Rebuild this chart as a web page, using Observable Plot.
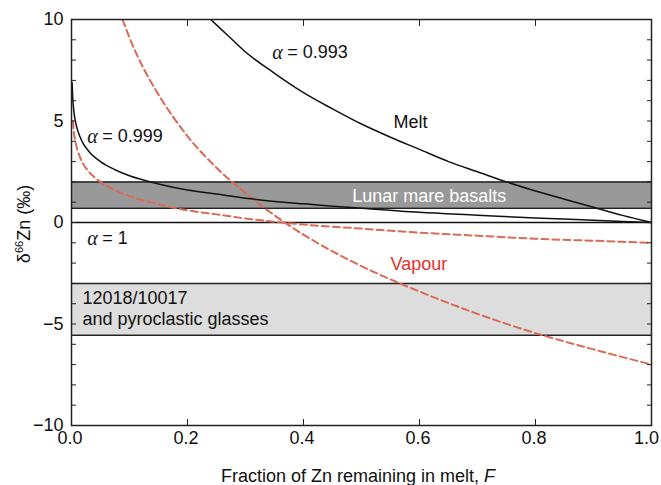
<!DOCTYPE html>
<html><head><meta charset="utf-8">
<script src="https://cdn.jsdelivr.net/npm/d3@7"></script>
<script src="https://cdn.jsdelivr.net/npm/@observablehq/plot@0.6"></script>
<style>
body{margin:0;background:#fff;}
#chart{width:661px;height:485px;}
</style>
</head><body><div id="chart"></div>
<script>
// Melt curve, alpha = 0.999
const meltF999 = [0.001, 0.002, 0.004, 0.007, 0.01, 0.015, 0.02, 0.03, 0.05, 0.075, 0.1, 0.15, 0.2, 0.25, 0.3, 0.4, 0.5, 0.6, 0.7, 0.8, 0.9, 1.0];
const melt999  = [6.9, 6.2, 5.5, 4.95, 4.6, 4.2, 3.9, 3.5, 3.0, 2.6, 2.3, 1.9, 1.6, 1.4, 1.2, 0.92, 0.7, 0.5, 0.36, 0.22, 0.11, 0.0];
// Vapour curve, alpha = 0.999
const vapF999 = [0.0025, 0.004, 0.007, 0.01, 0.015, 0.02, 0.03, 0.05, 0.075, 0.1, 0.15, 0.2, 0.25, 0.3, 0.4, 0.5, 0.6, 0.7, 0.8, 0.9, 1.0];
const vap999  = [5.0, 4.5, 3.95, 3.6, 3.2, 2.9, 2.5, 2.0, 1.6, 1.3, 0.9, 0.6, 0.4, 0.2, -0.1, -0.3, -0.5, -0.65, -0.8, -0.9, -1.0];
// Melt curve, alpha = 0.993
const meltF993 = [0.24, 0.27, 0.3, 0.35, 0.4, 0.45, 0.5, 0.55, 0.6, 0.65, 0.7, 0.75, 0.8, 0.85, 0.9, 0.95, 1.0];
const melt993  = [10.0, 9.2, 8.4, 7.35, 6.4, 5.6, 4.85, 4.2, 3.6, 3.0, 2.5, 2.0, 1.55, 1.15, 0.75, 0.35, 0.0];
// Vapour curve, alpha = 0.993
const vapF993 = [0.088, 0.1, 0.125, 0.15, 0.2, 0.25, 0.3, 0.35, 0.4, 0.5, 0.6, 0.7, 0.8, 0.9, 1.0];
const vap993  = [10.0, 9.1, 7.55, 6.3, 4.25, 2.7, 1.45, 0.35, -0.6, -2.15, -3.4, -4.5, -5.45, -6.25, -7.0];
// alpha = 1 line
const alphaOneValue = [0];
// Reference bands
const bandNames = ["Lunar mare basalts", "12018/10017 and pyroclastic glasses"];
const bandLow   = [0.7, -5.55];
const bandHigh  = [2.0, -3.0];
// Tick values
const xTicks = [0, 0.2, 0.4, 0.6, 0.8];
const xLastTick = [1.0];
const xInnerTicks = [0.2, 0.4, 0.6, 0.8];
const yTicks = [-10, -5, 0, 5, 10];
const yMinorTicks = d3.range(-10, 11, 1);
// Annotation labels
const alphaLabelVal = ["0.993", "0.999", "1"];
const alphaLabelF   = [0.346, 0.027, 0.027];
const alphaLabelV   = [8.37, 4.24, -0.79];

const zip = (xs, ys) => xs.map((x, i) => ({F: x, d: ys[i]}));
const bands = bandNames.map((n, i) => ({name: n, lo: bandLow[i], hi: bandHigh[i]}));
const alphaLabels = alphaLabelVal.map((v, i) => ({v, F: alphaLabelF[i], d: alphaLabelV[i]}));

const font = "'Liberation Sans', Arial, Helvetica, sans-serif";
const red = "#d96a55";

const plot = Plot.plot({
  width: 661, height: 485,
  marginLeft: 71, marginRight: 10, marginTop: 19, marginBottom: 60,
  style: {fontFamily: font, fontSize: "18px", background: "#fff", color: "#111"},
  x: {domain: [0, 1]},
  y: {domain: [-10, 10]},
  marks: [
    Plot.rect(bands, {x1: 0, x2: 1, y1: "lo", y2: "hi", fill: (d, i) => i === 0 ? "#999999" : "#dddddd"}),
    Plot.ruleY(bands, {y: "lo", x1: 0, x2: 1, stroke: "#222", strokeWidth: 1.5}),
    Plot.ruleY(bands, {y: "hi", x1: 0, x2: 1, stroke: "#222", strokeWidth: 1.5}),
    Plot.ruleY(alphaOneValue, {x1: 0, x2: 1, stroke: "#111", strokeWidth: 1.5}),
    Plot.line(zip(vapF999, vap999), {x: "F", y: "d", stroke: red, strokeWidth: 2, strokeDasharray: "7,4", curve: "monotone-x", clip: true}),
    Plot.line(zip(vapF993, vap993), {x: "F", y: "d", stroke: red, strokeWidth: 2, strokeDasharray: "7,4", curve: "monotone-x", clip: true}),
    Plot.line(zip(meltF999, melt999), {x: "F", y: "d", stroke: "#111", strokeWidth: 1.5, curve: "monotone-x", clip: true}),
    Plot.line(zip(meltF993, melt993), {x: "F", y: "d", stroke: "#111", strokeWidth: 1.5, curve: "monotone-x", clip: true}),
    Plot.frame({stroke: "#222", strokeWidth: 1.5}),
    Plot.axisY(yMinorTicks, {anchor: "left", tickSize: -5, tickFormat: () => "", label: null, stroke: "#222"}),
    Plot.axisY(yMinorTicks, {anchor: "right", tickSize: -5, tickFormat: () => "", label: null, stroke: "#222"}),
    Plot.axisY(yTicks, {anchor: "left", tickSize: 0, tickPadding: 8, label: null, fill: "#111"}),
    Plot.axisX(xInnerTicks, {anchor: "bottom", tickSize: -6, tickFormat: () => "", label: null, stroke: "#222"}),
    Plot.axisX(xInnerTicks, {anchor: "top", tickSize: -6, tickFormat: () => "", label: null, stroke: "#222"}),
    Plot.axisX(xTicks, {anchor: "bottom", tickSize: 0, tickPadding: 6, dx: -1.5, tickFormat: d3.format(".1f"), label: null, fill: "#111"}),
    Plot.axisX(xLastTick, {anchor: "bottom", tickSize: 0, tickPadding: 6, dx: -5, tickFormat: d3.format(".1f"), label: null, fill: "#111"}),
    Plot.text(alphaLabels, {x: "F", y: "d", text: () => "α", textAnchor: "start", fontStyle: "italic", fontFamily: "'Liberation Serif', 'DejaVu Serif', serif", fontSize: 20, fill: "#111"}),
    Plot.text(alphaLabels, {x: "F", y: "d", text: d => "= " + d.v, textAnchor: "start", dx: 15, fill: "#111"}),
    Plot.text(["Melt"], {x: 0.555, y: 4.93, textAnchor: "start", fill: "#111"}),
    Plot.text(["Vapour"], {x: 0.55, y: -2.07, textAnchor: "start", fill: "#e0302c"}),
    Plot.text(["Lunar mare basalts"], {x: 0.484, y: 1.3, textAnchor: "start", fill: "#fff"}),
    Plot.text(["12018/10017"], {x: 0.019, y: -3.74, textAnchor: "start", fill: "#111"}),
    Plot.text(["and pyroclastic glasses"], {x: 0.019, y: -4.78, textAnchor: "start", fill: "#111"})
  ]
});
document.getElementById("chart").appendChild(plot);

const svg = d3.select(plot);
const yl = svg.append("text")
  .attr("transform", "translate(30,224) rotate(-90)")
  .attr("text-anchor", "middle")
  .attr("fill", "#111")
  .style("font-size", "18px");
yl.append("tspan").text("δ");
yl.append("tspan").attr("dy", -7).style("font-size", "11px").text("66");
yl.append("tspan").attr("dy", 7).text("Zn (‰)");

const xl = svg.append("text")
  .attr("x", 358).attr("y", 482)
  .attr("text-anchor", "middle")
  .attr("fill", "#111")
  .style("font-size", "18px");
xl.append("tspan").text("Fraction of Zn remaining in melt, ");
xl.append("tspan").style("font-style", "italic").text("F");
</script>
</body></html>
